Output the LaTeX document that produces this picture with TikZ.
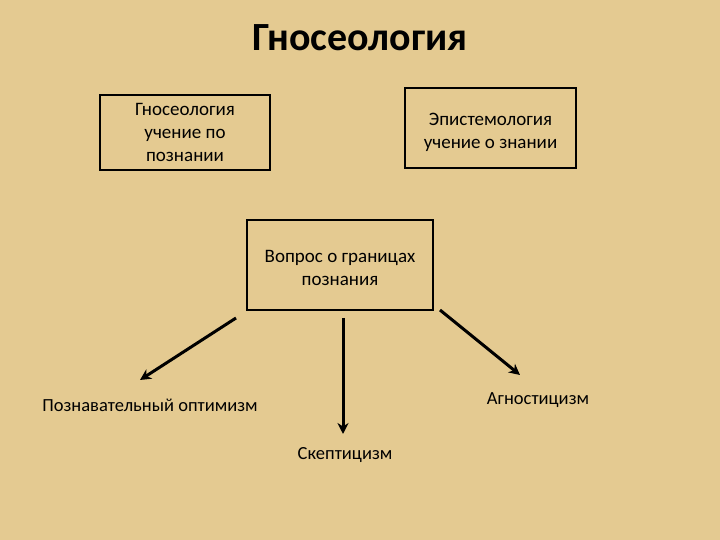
\documentclass[tikz,border=0pt]{standalone}
\usepackage{fontspec}
\setmainfont{Carlito}
\usetikzlibrary{arrows.meta}
\definecolor{parch}{HTML}{E4CA91}
\begin{document}
\begin{tikzpicture}[x=1pt,y=1pt,
  box/.style={draw=black,line width=1.5pt,align=center,font=\fontsize{19}{23}\selectfont},
  lbl/.style={font=\fontsize{18.5}{22}\selectfont},
  arr/.style={line width=3pt,-{Stealth[length=11pt,width=11pt]}}]
\fill[parch] (0,0) rectangle (720,540);
\useasboundingbox (0,0) rectangle (720,540);
\node[font=\fontsize{40}{44}\selectfont\bfseries] (t) at (360,502) {Гносеология};
\node[box,minimum width=170,minimum height=75,inner sep=0pt] (g) at (185,407.5) {Гносеология\\учение по\\познании};
\node[box,minimum width=171,minimum height=80] (e) at (490.5,412) {};
\node[box,draw=none] (et) at (490.5,408) {Эпистемология\\учение о знании};
\node[box,minimum width=186,minimum height=90] (v) at (340,275) {};
\node[box,draw=none] (vt) at (340,272) {Вопрос о границах\\познания};
\node[lbl] (o) at (150,135) {Познавательный оптимизм};
\node[lbl] (a) at (538,140) {Агностицизм};
\node[lbl] (s) at (345,85) {Скептицизм};
\coordinate (v1) at (236,222);
\coordinate (v2) at (343,222);
\coordinate (v3) at (440,230);
\draw[arr] (v1) -- (140,160);
\draw[arr] (v2) -- (343,106);
\draw[arr] (v3) -- (520,165);
\end{tikzpicture}
\end{document}
